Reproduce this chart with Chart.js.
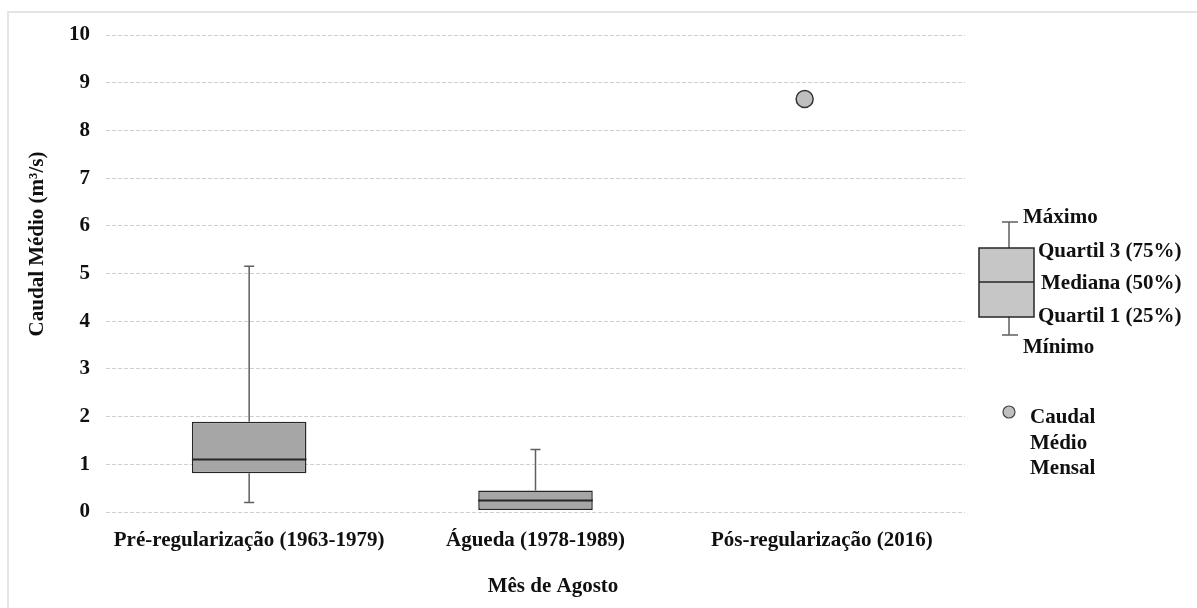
<!DOCTYPE html>
<html>
<head>
<meta charset="utf-8">
<script src="https://cdn.jsdelivr.net/npm/chart.js@4.4.0/dist/chart.umd.min.js"></script>
<style>
    html, body { margin: 0; padding: 0; background: #fff; overflow: hidden; }
    #frame { position: absolute; left: 7px; top: 11px; width: 1300px; height: 700px; border-left: 2px solid #e4e4e4; border-top: 2px solid #e4e4e4; }
    #wrap { position: absolute; left: 0; top: 0; width: 1197px; height: 608px; }
</style>
</head>
<body>
<div id="frame"></div>
<div id="wrap"><canvas id="boxChart"></canvas></div>
<script>
// Caudal médio (m3/s) - mês de Agosto
const categorias = ['Pré-regularização (1963-1979)', 'Águeda (1978-1989)', 'Pós-regularização (2016)'];
const minimo   = [0.20, 0.04, null];
const quartil1 = [0.81, 0.04, null];
const mediana  = [1.10, 0.24, null];
const quartil3 = [1.89, 0.45, null];
const maximo   = [5.15, 1.31, null];

// caudal médio mensal (só pós-regularização)
const caudalMensalX = 1.94;
const caudalMensal = 8.66;

const yTicks = [0, 1, 2, 3, 4, 5, 6, 7, 8, 9, 10];

const FONT = '"Liberation Serif", "Times New Roman", serif';
const TXT = '#101010';
const BOX_FILL = '#a6a6a6';
const EDGE = '#262626';
const WHISKER = '#5f5f5f';

const boxData = [];
categorias.forEach((c, i) => {
    if (quartil1[i] !== null) boxData.push({ x: i, y: [quartil1[i], quartil3[i]] });
});

// whiskers, caps and medians, drawn through the scales
const boxPlotPlugin = {
    id: 'boxPlot',
    afterDatasetsDraw(chart) {
        const ctx = chart.ctx;
        const xs = chart.scales.x, ys = chart.scales.y;
        const bars = chart.getDatasetMeta(0).data;
        ctx.save();
        boxData.forEach((d, k) => {
            const i = d.x;
            const x = xs.getPixelForValue(i);
            const half = bars[k].width / 2;
            ctx.strokeStyle = WHISKER;
            ctx.lineWidth = 1.5;
            ctx.beginPath();
            ctx.moveTo(x, ys.getPixelForValue(quartil3[i]));
            ctx.lineTo(x, ys.getPixelForValue(maximo[i]));
            ctx.moveTo(x - 5, ys.getPixelForValue(maximo[i]));
            ctx.lineTo(x + 5, ys.getPixelForValue(maximo[i]));
            if (minimo[i] < quartil1[i]) {
                ctx.moveTo(x, ys.getPixelForValue(quartil1[i]));
                ctx.lineTo(x, ys.getPixelForValue(minimo[i]));
                ctx.moveTo(x - 5, ys.getPixelForValue(minimo[i]));
                ctx.lineTo(x + 5, ys.getPixelForValue(minimo[i]));
            }
            ctx.stroke();
            ctx.strokeStyle = EDGE;
            ctx.lineWidth = 2;
            ctx.beginPath();
            ctx.moveTo(x - half, ys.getPixelForValue(mediana[i]));
            ctx.lineTo(x + half, ys.getPixelForValue(mediana[i]));
            ctx.stroke();
        });
        ctx.restore();
    }
};

// axis titles and the explanatory legend on the right
const legendPlugin = {
    id: 'boxLegend',
    afterDraw(chart) {
        const ctx = chart.ctx;
        ctx.save();
        ctx.fillStyle = TXT;
        ctx.font = 'bold 21px ' + FONT;
        ctx.textBaseline = 'middle';

        // y title
        ctx.save();
        ctx.translate(38, 244);
        ctx.rotate(-Math.PI / 2);
        ctx.textAlign = 'center';
        ctx.fillText('Caudal Médio (m³/s)', 0, 0);
        ctx.restore();

        // x title
        ctx.textAlign = 'center';
        ctx.fillText('Mês de Agosto', 553, 587);

        // legend box
        ctx.strokeStyle = WHISKER;
        ctx.lineWidth = 1.5;
        ctx.beginPath();
        ctx.moveTo(1009, 222); ctx.lineTo(1009, 248);
        ctx.moveTo(1002, 222); ctx.lineTo(1018, 222);
        ctx.moveTo(1009, 317); ctx.lineTo(1009, 335);
        ctx.moveTo(1002, 335); ctx.lineTo(1018, 335);
        ctx.stroke();
        ctx.fillStyle = '#c6c6c6';
        ctx.fillRect(979, 248, 55, 69);
        ctx.strokeStyle = EDGE;
        ctx.lineWidth = 1.5;
        ctx.strokeRect(979, 248, 55, 69);
        ctx.beginPath();
        ctx.moveTo(979, 282); ctx.lineTo(1034, 282);
        ctx.stroke();

        ctx.fillStyle = TXT;
        ctx.textAlign = 'left';
        ctx.fillText('Máximo', 1023, 218);
        ctx.fillText('Quartil 3 (75%)', 1038, 252);
        ctx.fillText('Mediana (50%)', 1041, 284);
        ctx.fillText('Quartil 1 (25%)', 1038, 317);
        ctx.fillText('Mínimo', 1023, 348);

        ctx.beginPath();
        ctx.arc(1009, 412, 6, 0, Math.PI * 2);
        ctx.fillStyle = '#c0c0c0';
        ctx.fill();
        ctx.strokeStyle = '#444';
        ctx.lineWidth = 1.2;
        ctx.stroke();
        ctx.fillStyle = TXT;
        ctx.fillText('Caudal', 1030, 418);
        ctx.fillText('Médio', 1030, 444);
        ctx.fillText('Mensal', 1030, 469);
        ctx.restore();
    }
};

new Chart(document.getElementById('boxChart'), {
    type: 'bar',
    data: {
        datasets: [
            {
                label: 'Quartis',
                data: boxData,
                backgroundColor: BOX_FILL,
                borderColor: EDGE,
                borderWidth: 1.5,
                borderSkipped: false,
                categoryPercentage: 1,
                barPercentage: 0.4
            },
            {
                type: 'line',
                label: 'Caudal Médio Mensal',
                data: [{ x: caudalMensalX, y: caudalMensal }],
                showLine: false,
                pointRadius: 8.5,
                pointBackgroundColor: '#bfbfbf',
                pointBorderColor: '#333',
                pointBorderWidth: 1.5
            }
        ]
    },
    options: {
        responsive: true,
        maintainAspectRatio: false,
        animation: false,
        layout: { padding: { left: 8, right: 232, top: 35, bottom: 0 } },
        plugins: {
            legend: { display: false },
            tooltip: { enabled: false }
        },
        scales: {
            x: {
                type: 'linear',
                min: -0.5,
                max: 2.5,
                offset: false,
                afterBuildTicks(scale) {
                    scale.ticks = categorias.map((_, i) => ({ value: i }));
                },
                afterFit(scale) { scale.height = 96; },
                grid: { display: false },
                border: { display: false },
                ticks: {
                    padding: 8,
                    color: TXT,
                    font: { family: FONT, size: 21, weight: 'bold' },
                    maxRotation: 0,
                    callback: (v) => categorias[v]
                }
            },
            y: {
                min: 0,
                max: 10,
                afterBuildTicks(scale) {
                    scale.ticks = yTicks.map(v => ({ value: v }));
                },
                afterFit(scale) { scale.width = 98; },
                grid: { color: '#cfcfcf', drawTicks: false, lineWidth: 1 },
                border: { display: false, dash: [4, 2] },
                ticks: {
                    padding: 16,
                    color: TXT,
                    font: { family: FONT, size: 21, weight: 'bold' }
                }
            }
        }
    },
    plugins: [boxPlotPlugin, legendPlugin]
});
</script>
</body>
</html>
